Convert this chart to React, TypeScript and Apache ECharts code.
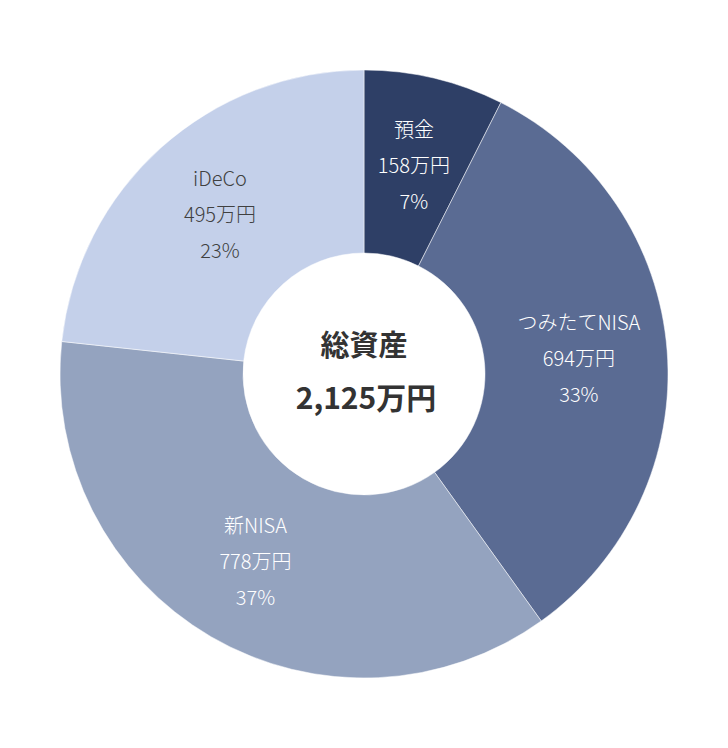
import { useEffect, useRef } from 'react';
import * as echarts from 'echarts';

const categories = ['預金', 'つみたてNISA', '新NISA', 'iDeCo'];
const amounts = [158, 694, 778, 495];
const sliceColors = ['#2e3f66', '#5a6b93', '#94a3bf', '#c4d0ea'];
const labelColors = ['#ffffff', '#ffffff', '#ffffff', '#404040'];
const centerTitle = '総資産';
const centerTotal = '2,125万円';

const FONT = '"Noto Sans CJK JP", "Noto Sans", sans-serif';

export default function App() {
  const ref = useRef<HTMLDivElement>(null);

  useEffect(() => {
    document.body.style.margin = '0';
    const dom = ref.current;
    if (!dom) return;
    const chart = echarts.init(dom, undefined, { renderer: 'svg' });

    chart.setOption({
      animation: false,
      backgroundColor: '#ffffff',
      graphic: [
        {
          type: 'text',
          x: 364,
          y: 343,
          style: {
            text: centerTitle,
            fill: '#333333',
            font: `bold 29px ${FONT}`,
            align: 'center',
            verticalAlign: 'middle',
          },
        },
        {
          type: 'text',
          x: 366,
          y: 396,
          style: {
            text: centerTotal,
            fill: '#333333',
            font: `bold 30px ${FONT}`,
            align: 'center',
            verticalAlign: 'middle',
          },
        },
      ],
      series: [
        {
          type: 'pie',
          center: [364, 374],
          radius: [121, 304],
          startAngle: 90,
          clockwise: true,
          avoidLabelOverlap: false,
          itemStyle: { borderColor: '#ffffff', borderWidth: 0.5 },
          label: {
            show: true,
            position: 'inside',
            fontFamily: FONT,
            fontSize: 20,
            fontWeight: 300,
            lineHeight: 36,
            formatter: (p: any) => `${p.name}\n${p.value}万円\n${Math.round(p.percent)}%`,
          },
          labelLine: { show: false },
          emphasis: { disabled: true },
          data: categories.map((name, i) => ({
            name,
            value: amounts[i],
            itemStyle: { color: sliceColors[i] },
            label: { color: labelColors[i] },
          })),
        },
      ],
    } as echarts.EChartsOption);

    return () => {
      chart.dispose();
    };
  }, []);

  return <div ref={ref} style={{ width: 728, height: 748 }} />;
}
